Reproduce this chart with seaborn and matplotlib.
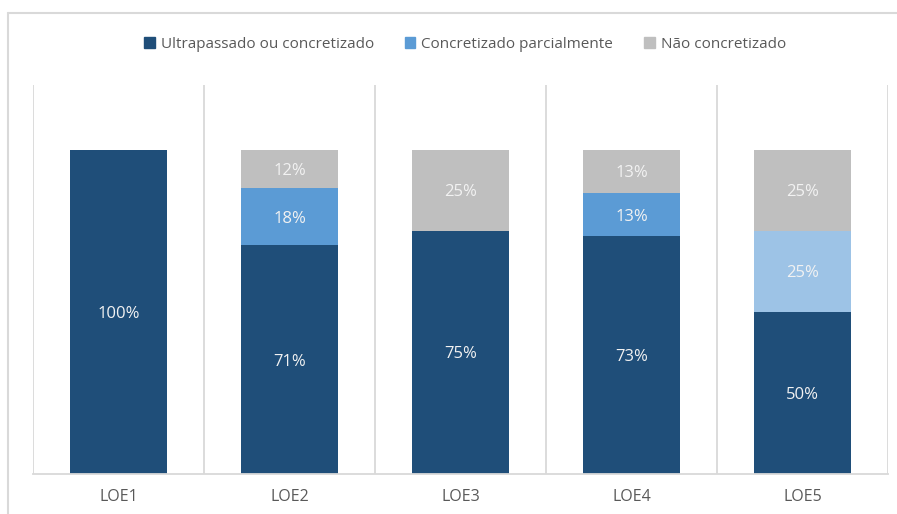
import matplotlib
matplotlib.use("Agg")
import matplotlib.pyplot as plt
import seaborn as sns
import pandas as pd
import numpy as np
from matplotlib.lines import Line2D
from matplotlib.patches import Patch

categories = ["LOE1", "LOE2", "LOE3", "LOE4", "LOE5"]
series_names = ["Ultrapassado ou concretizado", "Concretizado parcialmente", "Não concretizado"]
ultrapassado = [1.0, 12/17, 0.75, 11/15, 0.50]
parcial = [0.0, 3/17, 0.0, 2/15, 0.25]
nao = [0.0, 2/17, 0.25, 2/15, 0.25]

c_dark = "#1F4E79"
c_mid = "#5B9BD5"
c_mid_light = "#9DC3E6"
c_gray = "#BFBFBF"
mid_colors = [c_mid, c_mid, c_mid, c_mid, c_mid_light]

sns.set_theme(style="white")
plt.rcParams['font.family'] = ['Open Sans', 'DejaVu Sans']

df = pd.DataFrame({"cat": categories, "u": ultrapassado, "p": parcial, "n": nao})

W, H = 897, 514
fig = plt.figure(figsize=(W / 100, H / 100), dpi=100)
ax = fig.add_axes([33 / W, 1 - 474 / H, (888 - 33) / W, (474 - 85) / H])

bw = 97 / 171
sns.barplot(data=df, x="cat", y="u", color=c_dark, width=bw, ax=ax, saturation=1, linewidth=0)
x = np.arange(len(categories))
bottom2 = np.array(ultrapassado)
ax.bar(x, parcial, bottom=bottom2, width=bw, color=mid_colors, linewidth=0)
bottom3 = bottom2 + np.array(parcial)
ax.bar(x, nao, bottom=bottom3, width=bw, color=c_gray, linewidth=0)

for i in range(len(categories)):
    segs = [(ultrapassado[i], 0), (parcial[i], ultrapassado[i]), (nao[i], ultrapassado[i] + parcial[i])]
    for v, b in segs:
        if v > 0:
            ax.text(i, b + v / 2 - 0.006, f"{round(v * 100):.0f}%", ha="center", va="center",
                    color="#F2F2F2", fontsize=12)

ax.set_xlim(-0.5, 4.5)
ax.set_ylim(0, 1.2)
for xv in np.arange(-0.5, 5.0, 1.0):
    ax.axvline(xv, color="#D9D9D9", lw=1.3, zorder=0)
for s in ["top", "left", "right"]:
    ax.spines[s].set_visible(False)
ax.spines["bottom"].set_color("#D9D9D9")
ax.spines["bottom"].set_linewidth(1.3)
ax.set_yticks([])
ax.set_xlabel("")
ax.set_ylabel("")
ax.set_xticks(range(len(categories)))
ax.set_xticklabels(categories)
ax.tick_params(axis="x", length=0, pad=11, labelsize=11.5, labelcolor="#595959")

handles = [Patch(color=c_dark), Patch(color=c_mid), Patch(color=c_gray)]
fig.legend(handles, series_names, loc="center", bbox_to_anchor=(465 / W, 1 - 44 / H), ncol=3,
           frameon=False, fontsize=11, labelcolor="#595959", handlelength=0.7, handleheight=0.7,
           handletextpad=0.4, columnspacing=2.0)

# outer chart frame
fig.add_artist(Line2D([8 / W, 8 / W], [0, 1 - 13 / H], color="#D9D9D9", lw=1.5, transform=fig.transFigure))
fig.add_artist(Line2D([8 / W, 1], [1 - 13 / H, 1 - 13 / H], color="#D9D9D9", lw=1.5, transform=fig.transFigure))

fig.savefig("out.png", dpi=100)
